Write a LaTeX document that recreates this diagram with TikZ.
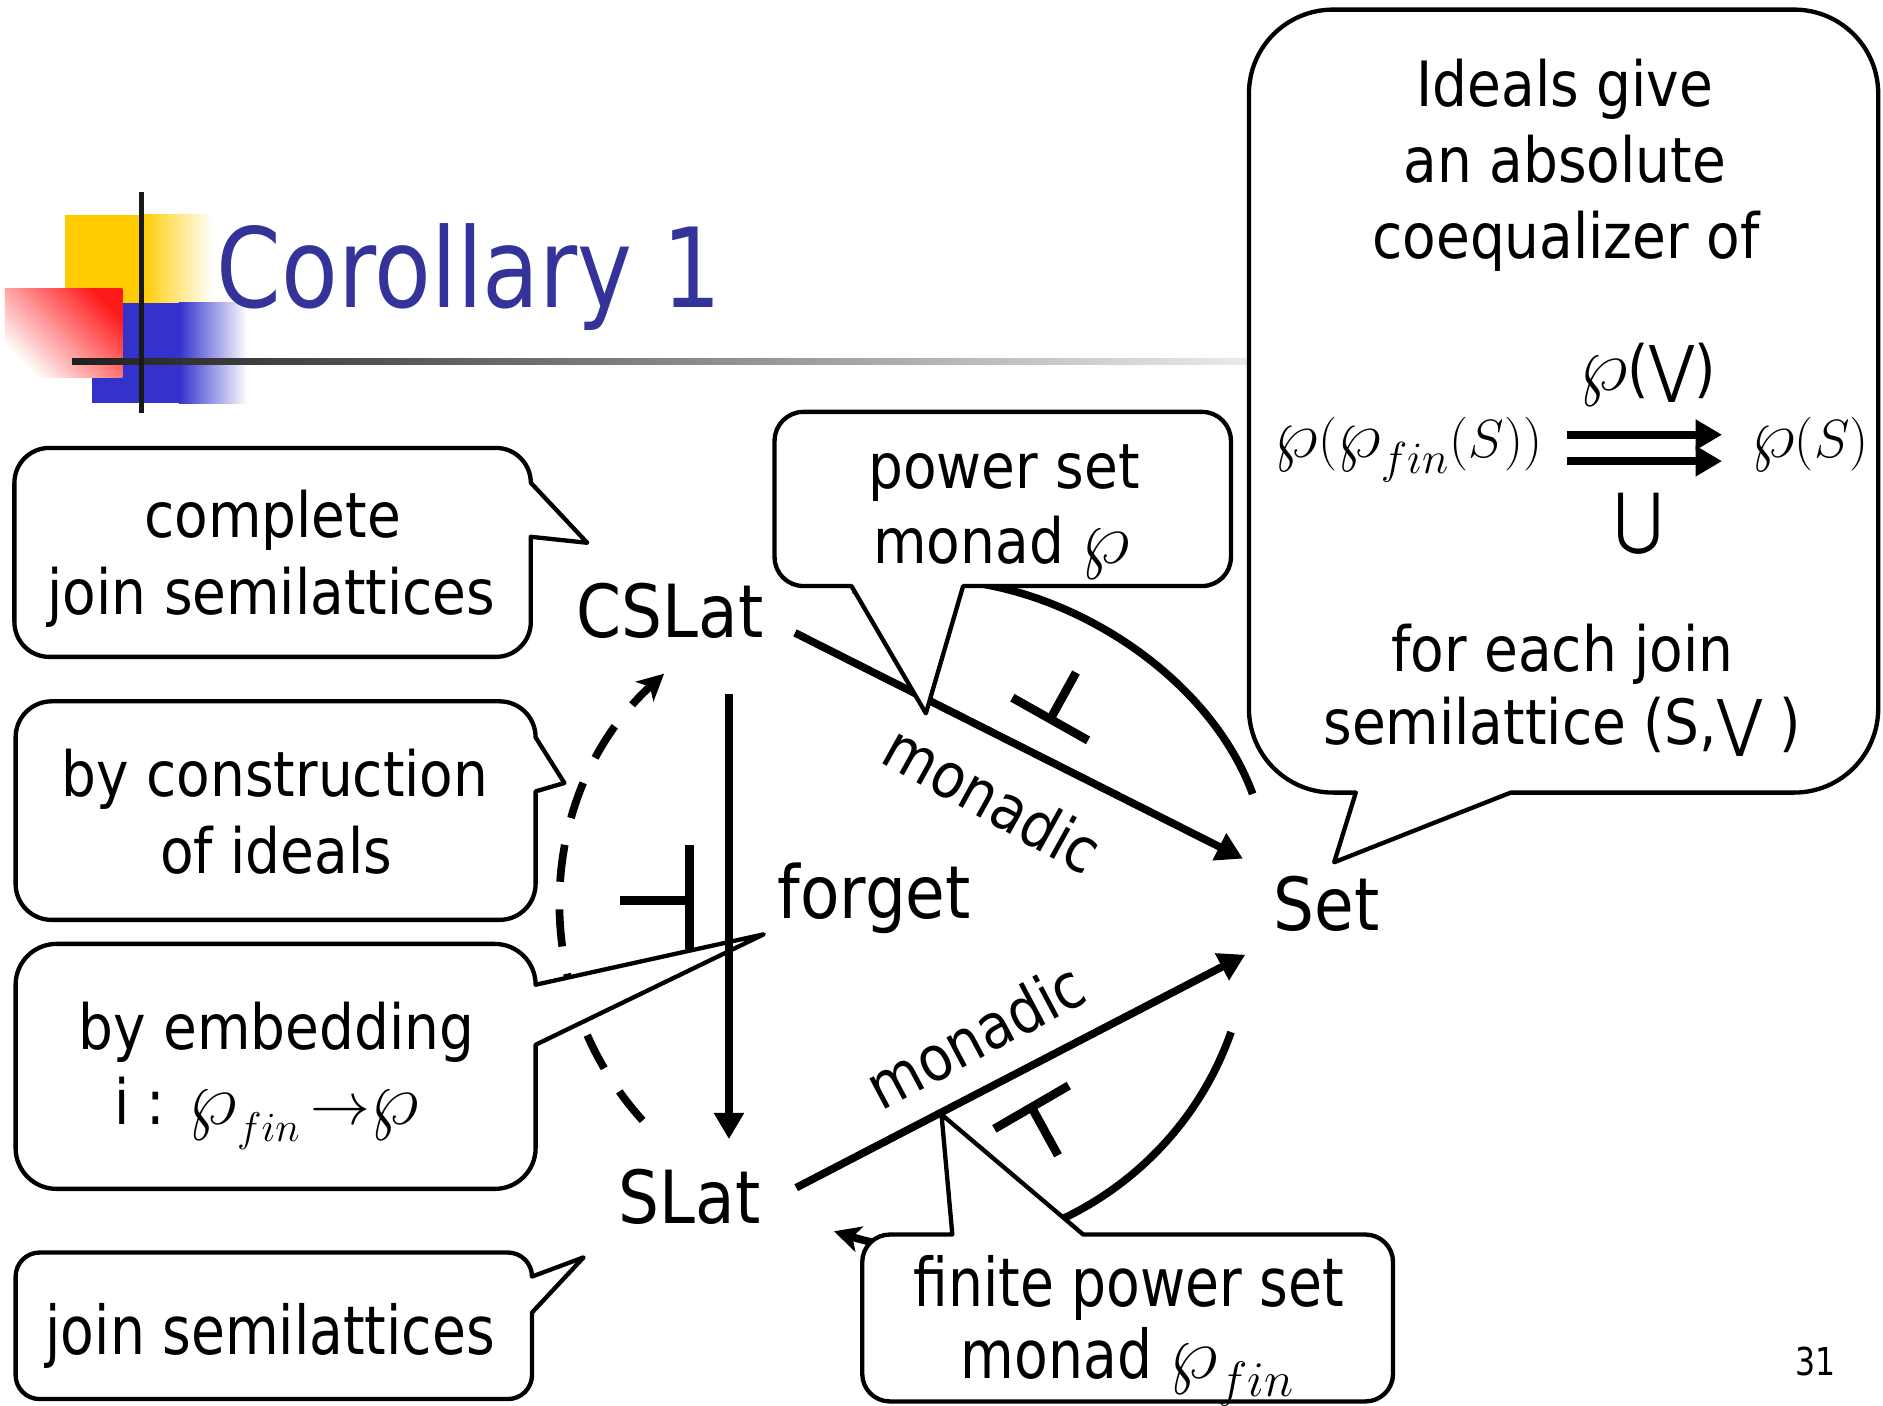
\documentclass[tikz,border=0pt]{standalone}
\usepackage{graphicx}
\usepackage{fontspec}
\setmainfont{DejaVu Sans}[FakeStretch=0.88]
\newfontfamily\titlefont{DejaVu Sans}[FakeStretch=0.84]
\newfontfamily\narrowfont{DejaVu Sans}[FakeStretch=0.82]
\usetikzlibrary{arrows.meta}
\definecolor{titleblue}{HTML}{333399}
\definecolor{sqyellow}{HTML}{FFCC00}
\definecolor{sqblue}{HTML}{3333CC}
\definecolor{sqred}{HTML}{FF1A1A}
\newcommand{\nodefs}{\fontsize{30.5}{36}\selectfont}
\newcommand{\callfs}{\fontsize{26}{32}\selectfont}
\newcommand{\narrowfs}{\narrowfont\fontsize{28}{34}\selectfont}
\newcommand{\titlefs}{\titlefont\fontsize{46}{52}\selectfont}
\newcommand{\mathfs}{\fontsize{24.88}{30}\selectfont}
\newcommand{\pset}{\mathord{\scalebox{1.3}{$\wp$}}}
\begin{document}
\begin{tikzpicture}[x=0.5pt,y=-0.5pt,
  heavy/.style={line width=3.2pt},
  cbox/.style={draw=black,line width=1.8pt,fill=white,line join=round},
  adj/.style={line width=3.6pt},
  tri/.style={-{Triangle[length=11pt,width=12pt]}},
  stl/.style={-{Stealth[length=11pt,width=11pt,inset=3pt]}},
  lbl/.style={inner sep=0pt,anchor=base west,font=\nodefs},
  ctext/.style={inner sep=0pt,anchor=base,font=\callfs},
  ntext/.style={inner sep=0pt,anchor=base,font=\narrowfs}]
\fill[white] (0,0) rectangle (1568,1170);
\useasboundingbox (0,0) rectangle (1568,1170);

% ---- title decoration ----
\fill[sqyellow] (54.5,179) rectangle (118,252);
\shade[left color=sqyellow,right color=white] (118,179) rectangle (177,252);
\fill[sqblue] (76.7,252) rectangle (149,336);
\shade[left color=sqblue,right color=white] (149,252) rectangle (206,336);
\shade[top color=sqred,bottom color=white,shading angle=-45] (4,240) rectangle (102,314);
\shade[left color=black!88,right color=black!8] (60,298.5) rectangle (1040,303.5);
\draw[line width=2.3pt,black!90] (118,160) -- (118,344);
\node[anchor=base west,inner sep=0pt,font=\titlefs,text=titleblue] (title) at (180,256) {Corollary 1};

% ---- main nodes ----
\node[lbl] (cslat) at (480,531) {CSLat};
\node[lbl] (forget) at (647,765) {forget};
\node[lbl] (slat) at (515,1019) {SLat};
\node[lbl] (set) at (1060,775) {Set};

% ---- connectors ----
\coordinate (csO) at (662,527);
\coordinate (setI1) at (1035,715);
\coordinate (slO) at (663,989);
\coordinate (setI2) at (1037,795);
\draw[heavy,tri] (csO) -- (setI1);
\draw[heavy,tri] (slO) -- (setI2);

\coordinate (uarcS) at (1043.1,661.1);
\coordinate (uarcE) at (709,494);
\draw[heavy,stl] (uarcS) .. controls (998,539.2) and (833.6,456.9) .. (uarcE);

\coordinate (barcS) at (1025.1,859.4);
\coordinate (barcE) at (694.5,1025.3);
\draw[heavy,stl] (barcS) .. controls (977.7,994.8) and (831.4,1068.2) .. (barcE);

\coordinate (dS) at (535.1,933);
\coordinate (dE) at (553,561);
\draw[heavy,stl,dash pattern=on 15.5pt off 11.5pt] (dS) .. controls (437.7,825.2) and (445.7,659) .. (dE);

% adjunction symbols
\draw[adj] (516,750) -- (574,750);
\draw[adj] (574,704) -- (574,790);
\draw[adj] (843,581) -- (906,616.5);
\draw[adj] (874.5,599) -- (896,560);
\draw[adj] (828,940) -- (890,904);
\draw[adj] (859,922) -- (881,962);

% ---- callouts ----
% A
\draw[cbox] (41,373) -- (413,373) arc[start angle=-90,end angle=0,radius=29]
  -- (489,452) -- (442,447) -- (442,518) arc[start angle=0,end angle=90,radius=29]
  -- (41,547) arc[start angle=90,end angle=180,radius=29]
  -- (12,402) arc[start angle=180,end angle=270,radius=29] -- cycle;
% B
\draw[cbox] (43,584) -- (416,584) arc[start angle=-90,end angle=0,radius=30]
  -- (470,652) -- (446,659) -- (446,736) arc[start angle=0,end angle=90,radius=30]
  -- (43,766) arc[start angle=90,end angle=180,radius=30]
  -- (13,614) arc[start angle=180,end angle=270,radius=30] -- cycle;
% C
\draw[cbox] (47,786) -- (412,786) arc[start angle=-90,end angle=0,radius=34]
  -- (636,778) -- (446,870) -- (446,956) arc[start angle=0,end angle=90,radius=34]
  -- (47,990) arc[start angle=90,end angle=180,radius=34]
  -- (13,820) arc[start angle=180,end angle=270,radius=34] -- cycle;
% D
\draw[cbox] (33,1043) -- (423,1043) arc[start angle=-90,end angle=0,radius=20]
  -- (486,1047) -- (443,1093) -- (443,1145) arc[start angle=0,end angle=90,radius=20]
  -- (33,1165) arc[start angle=90,end angle=180,radius=20]
  -- (13,1063) arc[start angle=180,end angle=270,radius=20] -- cycle;
% power set
\draw[cbox] (669,343) -- (1001,343) arc[start angle=-90,end angle=0,radius=24]
  -- (1025,464) arc[start angle=0,end angle=90,radius=24]
  -- (802,488) -- (771,594) -- (709,488)
  -- (669,488) arc[start angle=90,end angle=180,radius=24]
  -- (645,367) arc[start angle=180,end angle=270,radius=24] -- cycle;
% finite power set
\draw[cbox] (741,1028) -- (793,1028) -- (784,928) -- (902,1028)
  -- (1137,1028) arc[start angle=-90,end angle=0,radius=23]
  -- (1160,1144) arc[start angle=0,end angle=90,radius=23]
  -- (741,1167) arc[start angle=90,end angle=180,radius=23]
  -- (718,1051) arc[start angle=180,end angle=270,radius=23] -- cycle;
% right big callout
\draw[cbox] (1110,8) -- (1494,8) arc[start angle=-90,end angle=0,radius=70]
  -- (1564,590) arc[start angle=0,end angle=90,radius=70]
  -- (1258,660) -- (1111,718) -- (1129,660)
  -- (1110,660) arc[start angle=90,end angle=180,radius=70]
  -- (1040,78) arc[start angle=180,end angle=270,radius=70] -- cycle;

% forget arrow (over callout C pointer)
\coordinate (fgS) at (607,578);
\coordinate (fgE) at (607,948.6);
\draw[heavy,tri] (fgS) -- (fgE);

% ---- labels on arrows ----
\node[inner sep=0pt,font=\callfs,rotate=-29] (mon1) at (827,665) {monadic};
\node[inner sep=0pt,font=\callfs,rotate=28] (mon2) at (812,862) {monadic};

% ---- callout texts ----
\node[ctext] (a1) at (227,448) {complete};
\node[ctext] (a2) at (226,512) {join semilattices};
\node[ctext] (b1) at (229,663) {by construction};
\node[ctext] (b2) at (230,727) {of ideals};
\node[ctext] (c1) at (230,874) {by embedding};
\node[ctext] (c2) at (222,936) {i : $\pset_{fin}\,{\rightarrow}\pset$};
\node[ntext] (d1) at (225,1128) {join semilattices};
\node[ctext] (p1) at (836,407) {power set};
\node[ctext] (p2) at (834,469) {monad $\pset$};
\node[ntext] (f1) at (940,1088) {finite power set};
\node[ntext] (f2) at (939,1148) {monad $\pset_{fin}$};

\node[ctext] (r1) at (1303,89) {Ideals give};
\node[ctext] (r2) at (1303,152) {an absolute};
\node[ctext] (r3) at (1304,215) {coequalizer of};
\node[ctext] (r4) at (1372,325) {$\pset$(⋁)};
\node[inner sep=0pt,anchor=base west,font=\mathfs] (r5) at (1061,381) {\scalebox{0.9}{$\pset(\pset_{fin}(S))$}};
\node[inner sep=0pt,anchor=base west,font=\mathfs] (r6) at (1458,381) {\scalebox{0.9}{$\pset(S)$}};
\node[inner sep=0pt,font=\fontsize{28}{32}\selectfont] (r7) at (1365,436) {⋃};
\node[ctext] (r8) at (1301,559) {for each join};
\node[ctext] (r9) at (1301,620) {semilattice (S,⋁ )};
\coordinate (da1s) at (1305,362);
\coordinate (da1e) at (1434,362);
\coordinate (da2s) at (1305,384);
\coordinate (da2e) at (1434,384);
\draw[heavy,tri] (da1s) -- (da1e);
\draw[heavy,tri] (da2s) -- (da2e);

\node[inner sep=0pt,anchor=base,font=\narrowfont\fontsize{16}{18}\selectfont] (pagenum) at (1512,1145) {31};
\end{tikzpicture}
\end{document}
